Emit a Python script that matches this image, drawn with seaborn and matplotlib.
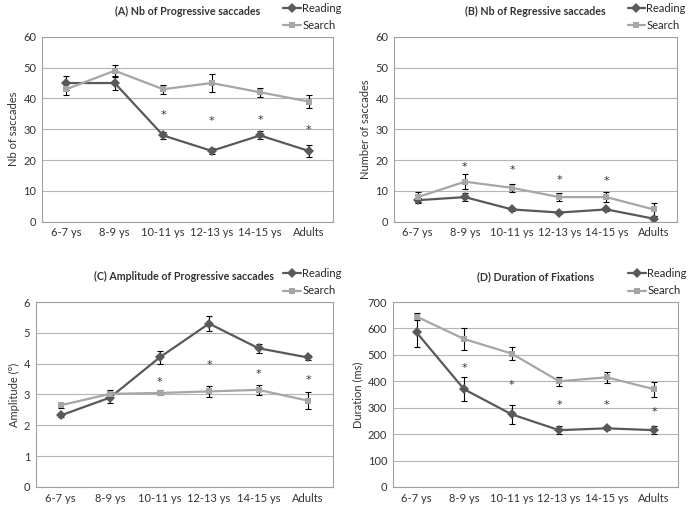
import numpy as np
import pandas as pd
import matplotlib
matplotlib.use("Agg")
import matplotlib.pyplot as plt
import seaborn as sns

sns.set_theme(style="white")
plt.rcParams['font.family'] = ['Lato', 'DejaVu Sans']

groups = ["6-7 ys", "8-9 ys", "10-11 ys", "12-13 ys", "14-15 ys", "Adults"]

# (A) progressive saccades
prog_read = [45, 45, 28, 23, 28, 23]
prog_read_err = [2.3, 2.3, 1.2, 1.0, 1.3, 2.0]
prog_search = [43, 49, 43, 45, 42, 39]
prog_search_err = [1.8, 2.0, 1.5, 3.0, 1.5, 2.0]
prog_star = [None, None, 36, 34, 34.5, 31]

# (B) regressive saccades
reg_read = [7, 8, 4, 3, 4, 1]
reg_read_err = [0.8, 1.3, 0.5, 0.5, 0.5, 1.0]
reg_search = [8, 13, 11, 8, 8, 4]
reg_search_err = [1.5, 2.5, 1.3, 1.2, 1.5, 2.0]
reg_star = [None, 19, 18, 15, 14.5, None]

# (C) amplitude
amp_read = [2.32, 2.9, 4.2, 5.3, 4.5, 4.2]
amp_read_err = [0.05, 0.18, 0.2, 0.25, 0.15, 0.08]
amp_search = [2.65, 3.02, 3.05, 3.1, 3.15, 2.8]
amp_search_err = [0.08, 0.12, 0.08, 0.18, 0.17, 0.27]
amp_star = [None, None, 3.55, 4.1, 3.8, 3.6]

# (D) fixation duration
dur_read = [585, 370, 275, 215, 222, 215]
dur_read_err = [55, 45, 35, 15, 8, 15]
dur_search = [645, 560, 505, 400, 415, 370]
dur_search_err = [15, 42, 25, 18, 22, 28]
dur_star = [None, 465, 400, 325, 325, 300]

panels = [
    ("(A) Nb of Progressive saccades", "Nb of saccades", 60, 10,
     prog_read, prog_read_err, prog_search, prog_search_err, prog_star),
    ("(B) Nb of Regressive saccades", "Number of saccades", 60, 10,
     reg_read, reg_read_err, reg_search, reg_search_err, reg_star),
    ("(C) Amplitude of Progressive saccades", "Amplitude (°)", 6, 1,
     amp_read, amp_read_err, amp_search, amp_search_err, amp_star),
    ("(D) Duration of Fixations", "Duration (ms)", 700, 100,
     dur_read, dur_read_err, dur_search, dur_search_err, dur_star),
]

positions = [
    [0.061, 0.566, 0.422, 0.362],
    [0.572, 0.566, 0.411, 0.362],
    [0.052, 0.047, 0.431, 0.362],
    [0.570, 0.047, 0.414, 0.362],
]

read_col = "#595959"
search_col = "#a6a6a6"

fig = plt.figure(figsize=(6.89, 5.11), dpi=100)

for pos, (title, ylab, ymax, step, r, re, s, se, star) in zip(positions, panels):
    ax = fig.add_axes(pos)
    df = pd.DataFrame({
        "group": groups * 2,
        "value": r + s,
        "task": ["Reading"] * 6 + ["Search"] * 6,
    })
    sns.lineplot(data=df, x="group", y="value", hue="task", style="task",
                 palette={"Reading": read_col, "Search": search_col},
                 markers={"Reading": "D", "Search": "s"}, dashes=False,
                 markersize=5, linewidth=1.6, markeredgewidth=0, sort=False, ax=ax)
    x = np.arange(len(groups))
    ax.errorbar(x, s, yerr=se, fmt="none", ecolor="black", elinewidth=0.8,
                capsize=2.2, capthick=0.8, zorder=1)
    ax.errorbar(x, r, yerr=re, fmt="none", ecolor="black", elinewidth=0.8,
                capsize=2.2, capthick=0.8, zorder=1)
    for xi, yi in zip(x, star):
        if yi is not None:
            ax.annotate("*", (xi, yi), xytext=(0, -3), textcoords="offset points",
                        ha="center", va="center", fontsize=8,
                        family="DejaVu Sans", color="#333333")

    ax.set_xlim(-0.5, 5.5)
    ax.set_ylim(0, ymax)
    ax.set_yticks(np.arange(0, ymax + step / 2, step))
    ax.yaxis.grid(True, color="#b5b5b5", linewidth=0.8)
    ax.set_axisbelow(True)
    for sp in ax.spines.values():
        sp.set_color("#a0a0a0")
        sp.set_linewidth(0.8)
    ax.tick_params(axis="both", labelsize=8, colors="#333333", length=0, pad=4)
    ax.set_xlabel("")
    ax.set_ylabel(ylab, fontsize=8, color="#333333", labelpad=3)
    ax.set_title(title, fontsize=7.7, fontweight="bold", color="#333333", pad=16)
    ax.legend(loc="lower right", bbox_to_anchor=(1.03, 1.03), frameon=False,
              fontsize=8, handlelength=1.6, handletextpad=0.1, labelspacing=0.6,
              borderaxespad=0.0, borderpad=0.0)

fig.savefig("out.png", dpi=100)
